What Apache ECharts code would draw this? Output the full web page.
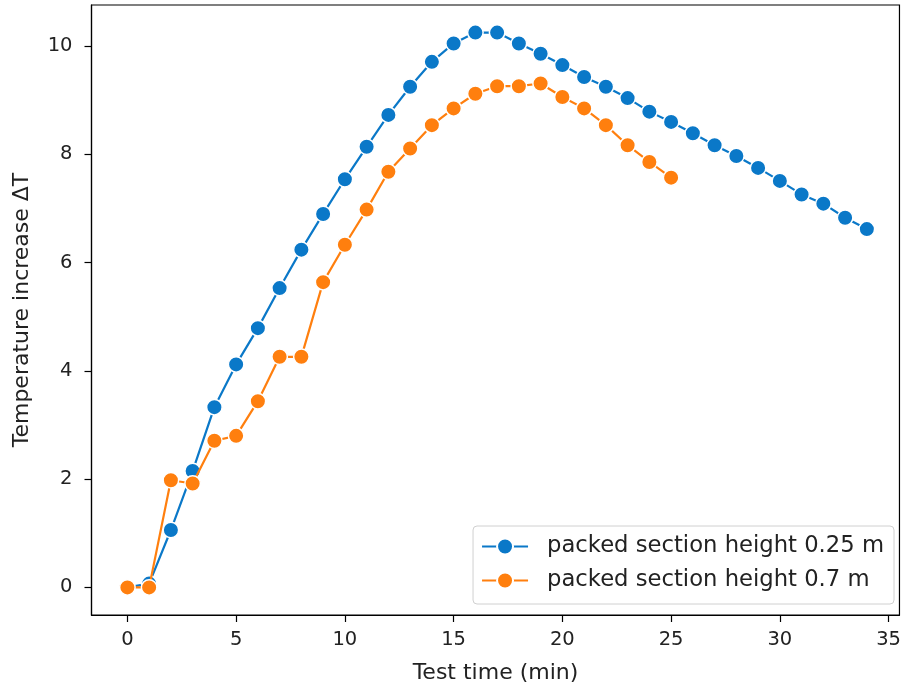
<!DOCTYPE html>
<html>
<head>
<meta charset="utf-8">
<script src="https://cdn.jsdelivr.net/npm/echarts@6/dist/echarts.min.js"></script>
<style>html,body{margin:0;padding:0;background:#fff}#c{width:904px;height:690px}</style>
</head>
<body>
<div id="c"></div>
<script>
const timeA = [0,1,2,3,4,5,6,7,8,9,10,11,12,13,14,15,16,17,18,19,20,21,22,23,24,25,26,27,28,29,30,31,32,33,34];
const valsA = [0,0.07,1.06,2.15,3.33,4.12,4.79,5.53,6.24,6.90,7.54,8.14,8.73,9.25,9.71,10.05,10.25,10.25,10.05,9.86,9.65,9.43,9.25,9.04,8.79,8.60,8.39,8.17,7.97,7.75,7.51,7.26,7.09,6.83,6.62];
const timeB = [0,1,2,3,4,5,6,7,8,9,10,11,12,13,14,15,16,17,18,19,20,21,22,23,24,25];
const valsB = [0,0,1.98,1.92,2.71,2.80,3.44,4.26,4.26,5.64,6.33,6.98,7.68,8.11,8.54,8.85,9.12,9.26,9.26,9.31,9.06,8.85,8.54,8.17,7.86,7.57];
const xTicks = [0,5,10,15,20,25,30,35];
const yTicks = [0,2,4,6,8,10];
const nameA = 'packed section height 0.25 m';
const nameB = 'packed section height 0.7 m';

const font = 'DejaVu Sans';
const chart = echarts.init(document.getElementById('c'), null, {renderer:'canvas'});
function pairs(xs, ys){ return xs.map((x,i)=>[x, ys[i]]); }
chart.setOption({
  animation:false,
  backgroundColor:'#fff',
  grid:{left:91.5, top:5, right:1.5, bottom:75, show:true, borderColor:'#000', borderWidth:1.2, containLabel:false},
  legend:{
    right:10, bottom:86, orient:'vertical',
    backgroundColor:'#fff', borderColor:'#d0d0d0', borderWidth:1, borderRadius:4,
    padding:[9,10,12,8], itemGap:11, itemWidth:46, itemHeight:20,
    textStyle:{fontFamily:font, fontSize:22.7, color:'#222', padding:[0,0,0,14]},
    data:[nameA, nameB]
  },
  xAxis:{
    type:'value', min:-1.65, max:35.5,
    name:'Test time (min)', nameLocation:'middle', nameGap:47,
    nameTextStyle:{fontFamily:font, fontSize:22, color:'#222'},
    splitLine:{show:false},
    axisLine:{show:true, onZero:false, lineStyle:{color:'#000', width:1.2}},
    axisTick:{show:true, inside:false, length:7, customValues:xTicks, lineStyle:{color:'#000', width:1.2}},
    axisLabel:{customValues:xTicks, fontFamily:font, fontSize:19.5, color:'#222', margin:15}
  },
  yAxis:{
    type:'value', min:-0.51, max:10.76,
    name:'Temperature increase ΔT', nameLocation:'middle', nameGap:58.5, nameRotate:90,
    nameTextStyle:{fontFamily:font, fontSize:22, color:'#222'},
    splitLine:{show:false},
    axisLine:{show:true, onZero:false, lineStyle:{color:'#000', width:1.2}},
    axisTick:{show:true, inside:false, length:7, customValues:yTicks, lineStyle:{color:'#000', width:1.2}},
    axisLabel:{customValues:yTicks, fontFamily:font, fontSize:19.5, color:'#222', margin:19}
  },
  series:[
    {name:nameA, type:'line', data:pairs(timeA, valsA), symbol:'circle', symbolSize:15.5,
     lineStyle:{color:'#0a78c8', width:2.2}, itemStyle:{color:'#0a78c8', borderColor:'#fff', borderWidth:1.5}, z:2},
    {name:nameB, type:'line', data:pairs(timeB, valsB), symbol:'circle', symbolSize:15.5,
     lineStyle:{color:'#ff7f0e', width:2.2}, itemStyle:{color:'#ff7f0e', borderColor:'#fff', borderWidth:1.5}, z:3}
  ]
});
</script>
</body>
</html>
